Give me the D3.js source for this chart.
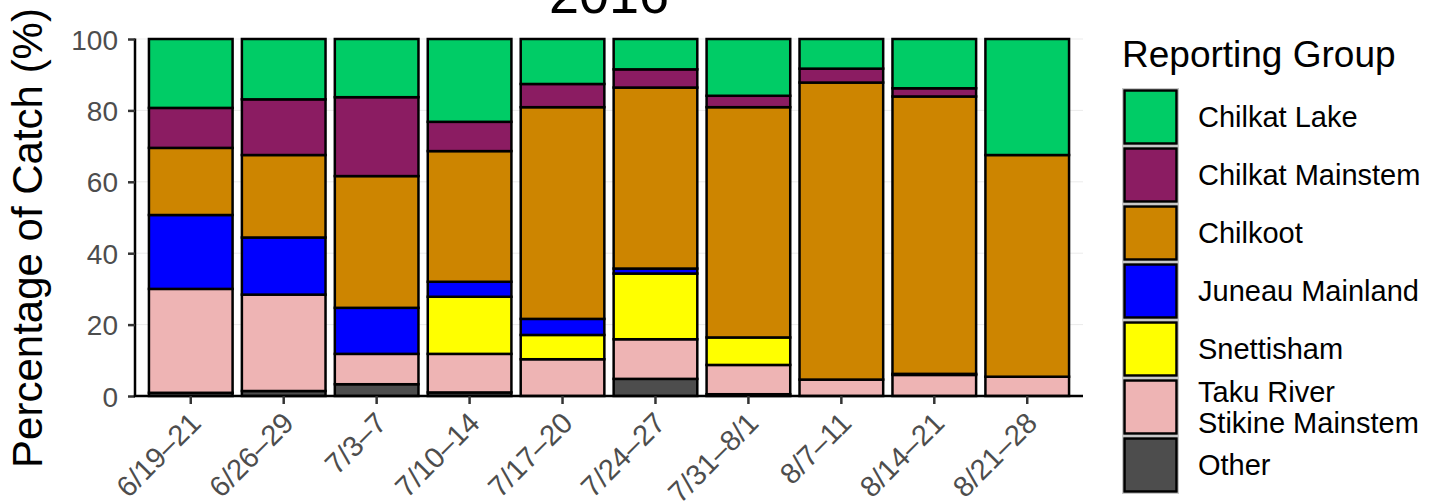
<!DOCTYPE html>
<html>
<head>
<meta charset="utf-8">
<script src="https://cdn.jsdelivr.net/npm/d3@7"></script>
<style>
  html, body { margin: 0; padding: 0; background: #fff; }
  svg { display: block; font-family: "Liberation Sans", Arial, sans-serif; }
</style>
</head>
<body>
<svg id="chart" width="1441" height="502"></svg>
<script>
const categories = ["6/19\u201321", "6/26\u201329", "7/3\u20137", "7/10\u201314", "7/17\u201320", "7/24\u201327", "7/31\u20138/1", "8/7\u201311", "8/14\u201321", "8/21\u201328"];
const groups = ["Chilkat Lake", "Chilkat Mainstem", "Chilkoot", "Juneau Mainland", "Snettisham", "Taku River\nStikine Mainstem", "Other"];
const groupColors = ["#00CC66", "#8B1C62", "#CD8500", "#0000FF", "#FFFF00", "#EEB4B4", "#4D4D4D"];
const chilkatLake     = [19.3, 16.9, 16.3, 23.2, 12.6, 8.5, 15.9, 8.3, 13.8, 32.5];
const chilkatMainstem = [11.2, 15.6, 22.1, 8.2, 6.5, 5.1, 3.2, 3.9, 2.3, 0];
const chilkoot        = [18.8, 23.1, 36.9, 36.6, 59.3, 50.7, 64.5, 83.2, 77.7, 62.1];
const juneauMainland  = [20.7, 16.0, 12.9, 4.2, 4.5, 1.4, 0, 0, 0, 0];
const snettisham      = [0, 0, 0, 16.0, 6.8, 18.4, 7.7, 0, 0.3, 0];
const takuStikine     = [29.1, 27.0, 8.5, 10.8, 10.3, 11.1, 8.2, 4.6, 5.9, 5.4];
const other           = [0.9, 1.4, 3.3, 1.0, 0, 4.8, 0.5, 0, 0, 0];
const yTicks = [0, 20, 40, 60, 80, 100];
const title = "2016";
const yTitle = "Percentage of Catch (%)";
const legendTitle = "Reporting Group";

const seriesValues = [chilkatLake, chilkatMainstem, chilkoot, juneauMainland, snettisham, takuStikine, other];

const svg = d3.select("#chart");
const pLeft = 135, pRight = 1083, pTop = 39, pBottom = 396;

const x = d3.scaleBand().domain(categories).range([pLeft, pRight]).paddingInner(0.1).paddingOuter(0.15);
const y = d3.scaleLinear().domain([0, 100]).range([pBottom, pTop]);

const rows = categories.map((c, i) => {
  const r = { cat: c };
  groups.forEach((g, k) => { r[g] = seriesValues[k][i]; });
  return r;
});
const stackOrder = groups.slice().reverse();
const stack = d3.stack().keys(stackOrder)(rows);

svg.append("g").selectAll("line").data(yTicks).join("line")
  .attr("x1", pLeft).attr("x2", pRight)
  .attr("y1", d => y(d)).attr("y2", d => y(d))
  .attr("stroke", "#ebebeb").attr("stroke-width", 1);

const colorOf = g => groupColors[groups.indexOf(g)];
svg.append("g").selectAll("g").data(stack).join("g")
  .attr("fill", s => colorOf(s.key))
  .selectAll("rect").data(s => s.filter(d => d[1] - d[0] > 0)).join("rect")
  .attr("x", d => x(d.data.cat))
  .attr("width", x.bandwidth())
  .attr("y", d => y(d[1]))
  .attr("height", d => y(d[0]) - y(d[1]))
  .attr("stroke", "#000").attr("stroke-width", 2.5);

const yAxis = svg.append("g").attr("transform", `translate(${pLeft},0)`)
  .call(d3.axisLeft(y).tickValues(yTicks).tickSize(7).tickPadding(10));
yAxis.select(".domain").attr("stroke", "#000").attr("stroke-width", 2.5).attr("d", `M0,${pBottom + 1}V${pTop - 0.5}`);
yAxis.selectAll(".tick line").attr("stroke", "#333").attr("stroke-width", 2.5);
yAxis.selectAll(".tick text").attr("fill", "#4D4D4D").style("font-size", "28px")
  .style("font-family", "'Liberation Sans', Arial, sans-serif").attr("dy", "0.36em");

const xAxis = svg.append("g").attr("transform", `translate(0,${pBottom})`)
  .call(d3.axisBottom(x).tickSize(8).tickPadding(4));
xAxis.select(".domain").attr("stroke", "#000").attr("stroke-width", 2.5).attr("d", `M${pLeft - 1.2},0H${pRight}`);
xAxis.selectAll(".tick line").attr("stroke", "#333").attr("stroke-width", 2.5);
xAxis.selectAll(".tick text").attr("fill", "#4D4D4D").style("font-size", "29px")
  .style("font-family", "'Liberation Sans', Arial, sans-serif")
  .attr("text-anchor", "end")
  .attr("transform", "translate(-3,14) rotate(-45)")
  .attr("dy", "0.72em").attr("y", 0).attr("x", 0);

svg.append("text").attr("x", (pLeft + pRight) / 2).attr("y", 13)
  .attr("text-anchor", "middle").style("font-size", "54px").attr("fill", "#000").text(title);

svg.append("text").attr("transform", `translate(42,238) rotate(-90)`)
  .attr("text-anchor", "middle").style("font-size", "42px").attr("fill", "#000").text(yTitle);

const lg = svg.append("g");
lg.append("text").attr("x", 1122).attr("y", 67).style("font-size", "37px").attr("fill", "#000").text(legendTitle);
const keyTop = 89, keyPitch = 58, keyW = 55, keyH = 56;
const items = lg.selectAll("g.item").data(groups).join("g").attr("class", "item")
  .attr("transform", (d, i) => `translate(1123,${keyTop + i * keyPitch})`);
items.append("rect").attr("x", -0.5).attr("y", -0.5).attr("width", keyW + 1).attr("height", keyH + 1)
  .attr("fill", "none").attr("stroke", "#c8c8c8").attr("stroke-width", 1);
items.append("rect").attr("x", 1.5).attr("y", 1.5).attr("width", keyW - 3).attr("height", keyH - 3)
  .attr("fill", (d, i) => groupColors[i]).attr("stroke", "#000").attr("stroke-width", 2.5);
items.each(function(d) {
  const lines = d.split("\n");
  const t = d3.select(this).append("text").attr("x", 75).style("font-size", "29px").attr("fill", "#000");
  const lh = 31;
  lines.forEach((ln, j) => {
    t.append("tspan").attr("x", 75)
      .attr("y", keyH / 2 + (j - (lines.length - 1) / 2) * lh)
      .attr("dy", "0.36em").text(ln);
  });
});
</script>
</body>
</html>
